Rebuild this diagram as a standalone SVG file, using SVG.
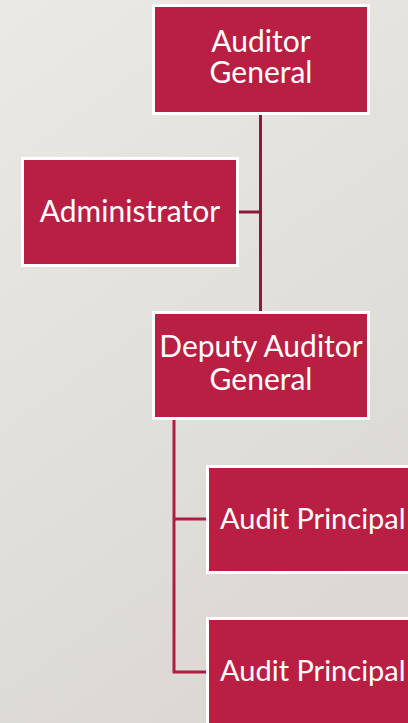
<svg xmlns="http://www.w3.org/2000/svg" width="408" height="723" viewBox="0 0 408 723">
<defs>
<linearGradient id="bg" x1="0" y1="0" x2="0.4" y2="1">
<stop offset="0" stop-color="#ebe9e5"/>
<stop offset="1" stop-color="#dcd9d4"/>
</linearGradient>
<style>
.box{fill:#b91f43;stroke:#ffffff;stroke-width:3}
.lbl{font-family:Lato,"Open Sans",sans-serif;font-size:30px;fill:#ffffff;text-anchor:middle}
.ap{font-size:29px;text-anchor:start}
.c1{stroke:#8e1a3b;stroke-width:3;fill:none}
.c2{stroke:#ae1e42;stroke-width:3;fill:none}
</style>
</defs>
<rect width="408" height="723" fill="url(#bg)"/>
<g id="connectors">
<path class="c1" d="M260.5 114 V312 M239 212 H260.5"/>
<path class="c2" d="M174 419 V672 H207 M174 519 H207"/>
</g>
<g id="auditor-general">
<rect class="box" x="153.5" y="5.5" width="215" height="108"/>
<text class="lbl" x="261" y="52">Auditor</text>
<text class="lbl" x="261" y="83">General</text>
</g>
<g id="administrator">
<rect class="box" x="22.5" y="158.5" width="215" height="107"/>
<text class="lbl" x="130" y="222">Administrator</text>
</g>
<g id="deputy-auditor-general">
<rect class="box" x="153.5" y="312.5" width="215" height="106"/>
<text class="lbl" x="261" y="357">Deputy Auditor</text>
<text class="lbl" x="261" y="390">General</text>
</g>
<g id="audit-principal-1">
<rect class="box" x="207.5" y="466.5" width="215" height="106"/>
<text class="lbl ap" x="220" y="529">Audit Principal</text>
</g>
<g id="audit-principal-2">
<rect class="box" x="207.5" y="618.5" width="215" height="110"/>
<text class="lbl ap" x="220" y="681">Audit Principal</text>
</g>
</svg>
